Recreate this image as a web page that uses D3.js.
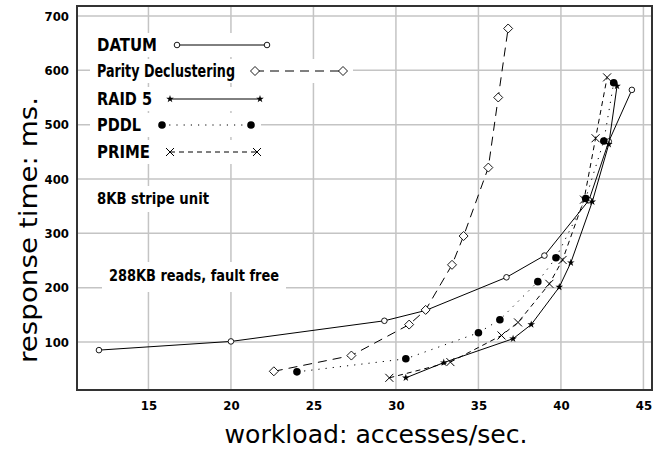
<!DOCTYPE html>
<html>
<head>
<meta charset="utf-8">
<script src="https://cdn.jsdelivr.net/npm/d3@7"></script>
<style>
  html, body { margin: 0; padding: 0; background: #fff; }
  svg { display: block; }
  text { font-family: "DejaVu Sans Condensed", "DejaVu Sans", sans-serif; fill: #000; }
</style>
</head>
<body>
<svg id="chart" width="661" height="452"></svg>
<script>
// workload (accesses/sec) and response time (ms) per scheme
const datumX  = [12, 20, 29.3, 31.8, 36.7, 39.0, 41.7, 42.9, 44.3];
const datumY  = [85, 101, 139, 158, 219, 259, 361, 469, 564];
const parityX = [22.6, 27.3, 30.8, 31.8, 33.4, 34.1, 35.6, 36.2, 36.8];
const parityY = [46, 75, 132, 159, 242, 295, 421, 550, 677];
const raid5X  = [30.6, 32.9, 37.1, 38.2, 39.9, 40.6, 41.9, 42.9, 43.4];
const raid5Y  = [34, 62, 106, 132, 201, 246, 358, 464, 571];
const pddlX   = [24.0, 30.6, 35.0, 36.3, 38.6, 39.7, 41.5, 42.6, 43.2];
const pddlY   = [45, 69, 117, 141, 211, 255, 364, 470, 577];
const primeX  = [29.6, 33.3, 36.4, 37.4, 39.3, 40.1, 41.4, 42.1, 42.8];
const primeY  = [34, 63, 112, 136, 207, 251, 362, 475, 587];

const seriesNames = ['DATUM', 'Parity Declustering', 'RAID 5', 'PDDL', 'PRIME'];
const xTicks = [15, 20, 25, 30, 35, 40, 45];
const yTicks = [100, 200, 300, 400, 500, 600, 700];
const notes = ['8KB stripe unit', '288KB reads, fault free'];

const dims = { width: 661, height: 452, margin: { left: 77, right: 9, top: 6, bottom: 62 } };

document.addEventListener('DOMContentLoaded', () => {
  const svg = d3.select('#chart');
  const m = dims.margin;

  const x = d3.scaleLinear().domain([10.67, 45.52]).range([m.left, dims.width - m.right]);
  const y = d3.scaleLinear().domain([11.6, 718.4]).range([dims.height - m.bottom, m.top]);

  // Grid
  const grid = svg.append('g').attr('stroke', '#c4c4c4').attr('stroke-width', 1.5);
  grid.selectAll('.gx').data(xTicks).enter().append('line')
    .attr('x1', d => x(d)).attr('x2', d => x(d))
    .attr('y1', y.range()[0]).attr('y2', y.range()[1]);
  grid.selectAll('.gy').data(yTicks).enter().append('line')
    .attr('x1', x.range()[0]).attr('x2', x.range()[1])
    .attr('y1', d => y(d)).attr('y2', d => y(d));

  // Tick labels
  const xAxis = d3.axisBottom(x).tickValues(xTicks).tickSize(0).tickPadding(8);
  const yAxis = d3.axisLeft(y).tickValues(yTicks).tickSize(0).tickPadding(8);
  const gx = svg.append('g').attr('transform', `translate(0, ${y.range()[0]})`).call(xAxis);
  const gy = svg.append('g').attr('transform', `translate(${m.left}, 0)`).call(yAxis);
  [gx, gy].forEach(g => {
    g.select('.domain').remove();
    g.selectAll('text').style('font-size', '13px').style('font-weight', 'bold')
      .style('font-family', '"DejaVu Sans Condensed", sans-serif');
  });
  gx.selectAll('text').attr('dy', '0.9em');

  // Annotation boxes + text
  const noteSpec = [
    { x: 97, y: 204, w: 112, box: [90, 186, 125, 26] },
    { x: 109, y: 281, w: 170, box: [102, 262, 184, 30] }
  ];
  notes.forEach((t, i) => {
    const s = noteSpec[i];
    svg.append('rect').attr('x', s.box[0]).attr('y', s.box[1]).attr('width', s.box[2]).attr('height', s.box[3]).attr('fill', '#fff');
    svg.append('text').attr('x', s.x).attr('y', s.y).text(t)
      .attr('font-size', 16).attr('font-weight', 'bold')
      .attr('textLength', s.w).attr('lengthAdjust', 'spacingAndGlyphs');
  });

  // Marker drawers
  const drawMarker = (g, kind, cx, cy) => {
    if (kind === 'circle') {
      g.append('circle').attr('cx', cx).attr('cy', cy).attr('r', 2.8)
        .attr('fill', '#fff').attr('stroke', '#000').attr('stroke-width', 0.9);
    } else if (kind === 'diamond') {
      const r = 4.5;
      g.append('path').attr('d', `M${cx},${cy - r}L${cx + r},${cy}L${cx},${cy + r}L${cx - r},${cy}Z`)
        .attr('fill', '#fff').attr('stroke', '#000').attr('stroke-width', 0.9);
    } else if (kind === 'star') {
      g.append('path').attr('d', d3.symbol(d3.symbolStar, 18)())
        .attr('transform', `translate(${cx},${cy})`).attr('fill', '#000');
    } else if (kind === 'dot') {
      g.append('circle').attr('cx', cx).attr('cy', cy).attr('r', 3.8).attr('fill', '#000');
    } else if (kind === 'cross') {
      const r = 4;
      g.append('path').attr('d', `M${cx - r},${cy - r}L${cx + r},${cy + r}M${cx - r},${cy + r}L${cx + r},${cy - r}`)
        .attr('stroke', '#000').attr('stroke-width', 1).attr('fill', 'none');
    }
  };

  const series = [
    { xs: datumX, ys: datumY, marker: 'circle', dash: null },
    { xs: parityX, ys: parityY, marker: 'diamond', dash: '9,6' },
    { xs: raid5X, ys: raid5Y, marker: 'star', dash: null },
    { xs: pddlX, ys: pddlY, marker: 'dot', dash: '1.2,6' },
    { xs: primeX, ys: primeY, marker: 'cross', dash: '5,4' }
  ];

  // Legend rows
  const legendRows = [
    { cy: 45, textW: 60, x1: 177, x2: 267 },
    { cy: 71, textW: 138, x1: 255, x2: 343 },
    { cy: 99, textW: 55, x1: 170, x2: 260 },
    { cy: 125, textW: 44, x1: 162, x2: 251 },
    { cy: 152, textW: 53, x1: 170, x2: 257 }
  ];

  // Series lines and markers
  const line = d3.line().x(d => x(d[0])).y(d => y(d[1]));
  const plot = svg.append('g');
  series.forEach(s => {
    const pts = s.xs.map((v, i) => [v, s.ys[i]]);
    plot.append('path').datum(pts).attr('d', line)
      .attr('fill', 'none').attr('stroke', '#000').attr('stroke-width', 1)
      .attr('stroke-dasharray', s.dash);
    pts.forEach(p => drawMarker(plot, s.marker, x(p[0]), y(p[1])));
  });

  // Legend
  const legend = svg.append('g');
  seriesNames.forEach((name, i) => {
    const r = legendRows[i];
    const s = series[i];
    legend.append('rect').attr('x', 90).attr('y', r.cy - 12)
      .attr('width', r.x2 + 10 - 90).attr('height', 24).attr('fill', '#fff');
    legend.append('text').attr('x', 97).attr('y', r.cy + 6.3).text(name)
      .attr('font-size', 17).attr('font-weight', 'bold')
      .attr('textLength', r.textW).attr('lengthAdjust', 'spacingAndGlyphs');
    legend.append('line').attr('x1', r.x1).attr('x2', r.x2).attr('y1', r.cy).attr('y2', r.cy)
      .attr('stroke', '#000').attr('stroke-width', 1).attr('stroke-dasharray', s.dash);
    drawMarker(legend, s.marker, r.x1, r.cy);
    drawMarker(legend, s.marker, r.x2, r.cy);
  });

  // Frame
  svg.append('rect')
    .attr('x', x.range()[0]).attr('y', y.range()[1])
    .attr('width', x.range()[1] - x.range()[0]).attr('height', y.range()[0] - y.range()[1])
    .attr('fill', 'none').attr('stroke', '#333').attr('stroke-width', 2);

  // Axis titles
  svg.append('text').attr('x', 376).attr('y', 443).attr('text-anchor', 'middle')
    .attr('font-size', 24).text('workload:  accesses/sec.')
    .attr('textLength', 303).attr('lengthAdjust', 'spacingAndGlyphs');
  svg.append('text').attr('transform', 'translate(37, 230) rotate(-90)').attr('text-anchor', 'middle')
    .attr('font-size', 24).text('response time:  ms.')
    .attr('textLength', 266).attr('lengthAdjust', 'spacingAndGlyphs');
});
</script>
</body>
</html>
